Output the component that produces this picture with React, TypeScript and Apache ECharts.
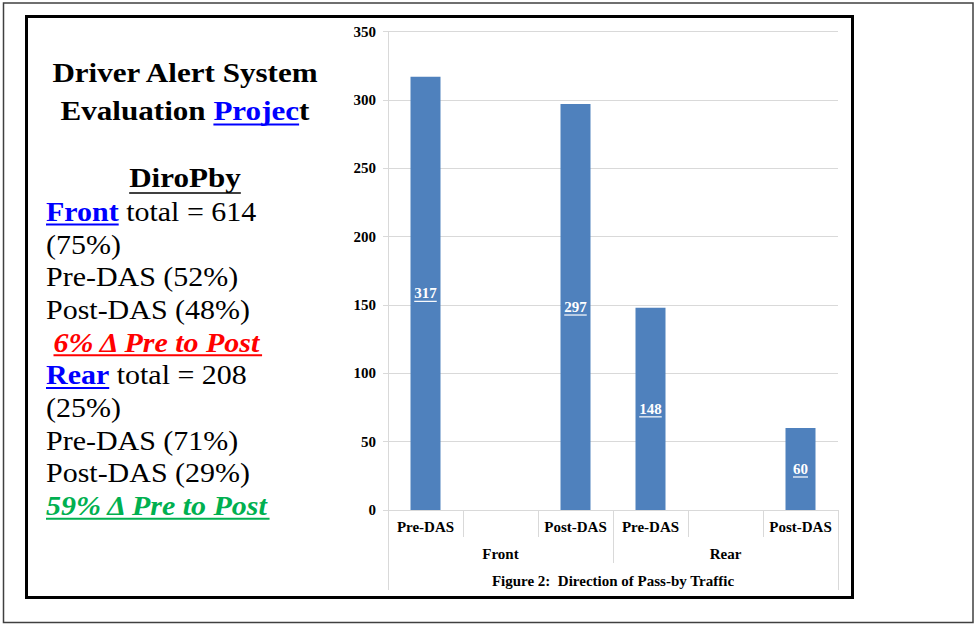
import React, { useEffect, useRef } from 'react';
import * as echarts from 'echarts';

// ---------- data ----------
const categories = ['Pre-DAS', '', 'Post-DAS', 'Pre-DAS', '', 'Post-DAS'];
const groups = ['Front', 'Rear'];
const axisTitle = ['Figure 2:  Direction of Pass-by Traffic'];
const values: (number | null)[] = [317, null, 297, 148, null, 60];
const yMin = 0;
const yMax = 350;
const yInterval = 50;

// left panel text
const titleLine1 = 'Driver Alert System';
const titleLine2 = [
  { t: 'Evaluation ', s: 'title' },
  { t: 'Projec', s: 'titleBlue', u: true },
  { t: 't', s: 'title' },
];
const subTitle = 'DiroPby';
type Seg = { t: string; s: string; u?: boolean };
const bodyLines: Seg[][] = [
  [{ t: 'Front', s: 'blue', u: true }, { t: ' total = 614', s: 'norm' }],
  [{ t: '(75%)', s: 'norm' }],
  [{ t: 'Pre-DAS (52%)', s: 'norm' }],
  [{ t: 'Post-DAS (48%)', s: 'norm' }],
  [{ t: ' ', s: 'norm' }, { t: '6% \u0394 Pre to Post', s: 'red', u: true }],
  [{ t: 'Rear', s: 'blue', u: true }, { t: ' total = 208', s: 'norm' }],
  [{ t: '(25%)', s: 'norm' }],
  [{ t: 'Pre-DAS (71%)', s: 'norm' }],
  [{ t: 'Post-DAS (29%)', s: 'norm' }],
  [{ t: '59% \u0394 Pre to Post', s: 'green', u: true }],
];

const FONT = 'Liberation Serif';
const BAR_COLOR = '#4F81BD';
const GRID_COLOR = '#d9d9d9';

const segStyles: Record<string, any> = {
  title: { fontSize: 28, fontWeight: 'bold', fontStyle: 'normal', fill: '#000000' },
  titleBlue: { fontSize: 28, fontWeight: 'bold', fontStyle: 'normal', fill: '#0000FF' },
  norm: { fontSize: 27, fontWeight: 'normal', fontStyle: 'normal', fill: '#000000' },
  blue: { fontSize: 27, fontWeight: 'bold', fontStyle: 'normal', fill: '#0000FF' },
  red: { fontSize: 27, fontWeight: 'bold', fontStyle: 'italic', fill: '#FF0000' },
  green: { fontSize: 27, fontWeight: 'bold', fontStyle: 'italic', fill: '#00B050' },
};

let measureCtx: CanvasRenderingContext2D | null = null;
function measure(text: string, size: number, weight = 'normal', style = 'normal') {
  if (!measureCtx) measureCtx = document.createElement('canvas').getContext('2d');
  if (!measureCtx) return text.length * size * 0.5;
  measureCtx.font = `${style} ${weight} ${size}px "${FONT}"`;
  return measureCtx.measureText(text).width;
}
function segWidth(seg: Seg) {
  const st = segStyles[seg.s];
  return measure(seg.t, st.fontSize, st.fontWeight, st.fontStyle);
}

const SX = 1.11;

function buildLeftGraphics() {
  const els: any[] = [];
  const rich: Record<string, any> = {};
  Object.keys(segStyles).forEach((k) => {
    const s = segStyles[k];
    rich[k] = { ...s, fontFamily: FONT };
  });
  const cx = 185;
  // title line 1
  els.push({
    type: 'text', x: cx, y: 72.5, scaleX: SX,
    style: { text: titleLine1, fontFamily: FONT, fontSize: 28, fontWeight: 'bold', fill: '#000', align: 'center', verticalAlign: 'middle' },
  });
  // title line 2 (rich)
  const total2 = titleLine2.reduce((a, s) => a + segWidth(s), 0) * SX;
  els.push({
    type: 'text', x: cx, y: 111, scaleX: SX,
    style: {
      text: titleLine2.map((s) => `{${s.s}|${s.t}}`).join(''),
      rich, align: 'center', verticalAlign: 'middle',
    },
  });
  let xx = cx - total2 / 2;
  titleLine2.forEach((s) => {
    const w = segWidth(s) * SX;
    if (s.u) {
      els.push({ type: 'line', shape: { x1: xx, y1: 124.5, x2: xx + w, y2: 124.5 }, style: { stroke: segStyles[s.s].fill, lineWidth: 2 } });
    }
    xx += w;
  });
  // subtitle
  const sw = measure(subTitle, 28, 'bold') * SX;
  els.push({
    type: 'text', x: cx, y: 178, scaleX: SX,
    style: { text: subTitle, fontFamily: FONT, fontSize: 28, fontWeight: 'bold', fill: '#000', align: 'center', verticalAlign: 'middle' },
  });
  els.push({ type: 'line', shape: { x1: cx - sw / 2, y1: 193, x2: cx + sw / 2, y2: 193 }, style: { stroke: '#000', lineWidth: 1.5 } });
  // body lines
  const left = 46;
  bodyLines.forEach((line, i) => {
    const baseline = 221 + 32.7 * i;
    els.push({
      type: 'text', x: left, y: baseline - 9.1, scaleX: SX,
      style: {
        text: line.map((s) => `{${s.s}|${s.t}}`).join(''),
        rich, align: 'left', verticalAlign: 'middle',
      },
    });
    let x = left;
    line.forEach((s) => {
      const w = segWidth(s) * SX;
      if (s.u) {
        els.push({ type: 'line', shape: { x1: x, y1: baseline + 3.5, x2: x + w, y2: baseline + 3.5 }, style: { stroke: segStyles[s.s].fill, lineWidth: 2 } });
      }
      x += w;
    });
  });
  return els;
}

export default function App() {
  const ref = useRef<HTMLDivElement>(null);
  useEffect(() => {
    if (!ref.current) return;
    const chart = echarts.init(ref.current, undefined, { renderer: 'svg' });
    const labelData = values
      .map((v, i) => [i, v])
      .filter((d) => d[1] !== null && d[1] !== undefined);

    const option: any = {
      animation: false,
      backgroundColor: '#ffffff',
      grid: { left: 388, right: 138, top: 31.6, bottom: 115, containLabel: false },
      xAxis: [
        {
          type: 'category',
          data: categories,
          position: 'bottom',
          offset: 0,
          boundaryGap: true,
          axisLine: { show: true, lineStyle: { color: GRID_COLOR, width: 1 } },
          axisTick: { show: true, length: 27, interval: 0, lineStyle: { color: GRID_COLOR } },
          axisLabel: { interval: 0, margin: 9, fontFamily: FONT, fontWeight: 'bold', fontSize: 15, color: '#000' },
          splitLine: { show: false },
        },
        {
          type: 'category',
          data: groups,
          position: 'bottom',
          offset: 0,
          boundaryGap: true,
          axisLine: { show: false },
          axisTick: { show: true, length: 53, interval: 0, lineStyle: { color: GRID_COLOR } },
          axisLabel: { interval: 0, margin: 36, fontFamily: FONT, fontWeight: 'bold', fontSize: 15, color: '#000' },
          splitLine: { show: false },
        },
        {
          type: 'category',
          data: axisTitle,
          position: 'bottom',
          offset: 0,
          boundaryGap: true,
          axisLine: { show: false },
          axisTick: { show: true, length: 80, interval: 0, lineStyle: { color: GRID_COLOR } },
          axisLabel: { interval: 0, margin: 63, fontFamily: FONT, fontWeight: 'bold', fontSize: 15, color: '#000' },
          splitLine: { show: false },
        },
      ],
      yAxis: {
        type: 'value',
        min: yMin,
        max: yMax,
        interval: yInterval,
        axisLine: { show: true, lineStyle: { color: GRID_COLOR } },
        axisTick: { show: true, length: 5, lineStyle: { color: GRID_COLOR } },
        axisLabel: { margin: 12, fontFamily: FONT, fontWeight: 'bold', fontSize: 15, color: '#000' },
        splitLine: { show: true, lineStyle: { color: GRID_COLOR, width: 1 } },
      },
      series: [
        {
          type: 'bar',
          xAxisIndex: 0,
          data: values,
          barWidth: '40%',
          itemStyle: { color: BAR_COLOR },
          label: { show: false },
        },
        {
          type: 'custom',
          xAxisIndex: 0,
          data: labelData,
          z: 5,
          encode: { x: 0, y: 1 },
          renderItem: (params: any, api: any) => {
            const idx = api.value(0);
            const v = api.value(1);
            const p = api.coord([idx, v / 2]);
            const txt = String(v);
            const w = measure(txt, 15, 'bold');
            return {
              type: 'group',
              children: [
                {
                  type: 'text', x: p[0], y: p[1],
                  style: { text: txt, fill: '#ffffff', fontSize: 15, fontWeight: 'bold', fontFamily: FONT, align: 'center', verticalAlign: 'middle' },
                },
                {
                  type: 'line',
                  shape: { x1: p[0] - w / 2, y1: p[1] + 8, x2: p[0] + w / 2, y2: p[1] + 8 },
                  style: { stroke: '#ffffff', lineWidth: 1.2 },
                },
              ],
            };
          },
        },
      ],
      graphic: [
        {
          type: 'rect', shape: { x: 3.5, y: 3, width: 969.5, height: 619.5 },
          style: { fill: 'none', stroke: '#404040', lineWidth: 1.5 }, z: 10,
        },
        {
          type: 'rect', shape: { x: 26.5, y: 16.5, width: 826, height: 581 },
          style: { fill: 'none', stroke: '#000000', lineWidth: 3 }, z: 10,
        },
        ...buildLeftGraphics(),
      ],
    };
    chart.setOption(option);
    return () => chart.dispose();
  }, []);
  return (
    <div
      ref={ref}
      style={{ position: 'absolute', left: 0, top: 0, width: 976, height: 625 }}
    />
  );
}
